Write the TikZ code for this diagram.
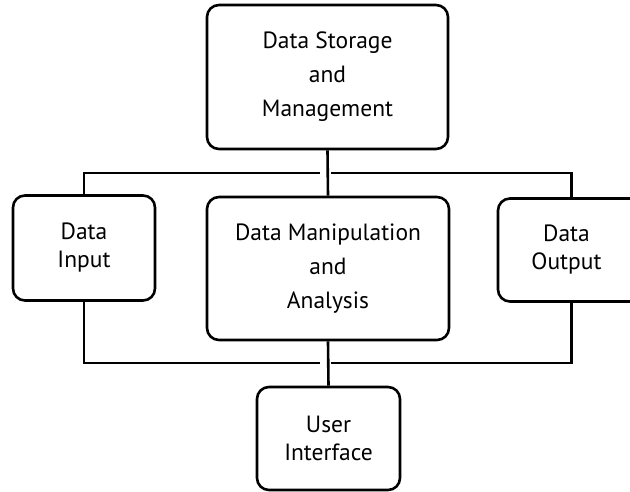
\documentclass[tikz,border=0pt]{standalone}
\usepackage{fontspec}
\setmainfont{PT Sans}
\begin{document}
\begin{tikzpicture}[x=1pt,y=-1pt,
  blk/.style={draw=black,line width=2.6pt,rounded corners=12pt,align=center,
    inner sep=0pt,font=\fontsize{23.5}{28}\selectfont},
  blkthree/.style={blk,font=\fontsize{23.5}{34}\selectfont},
  conn/.style={draw=black,line width=2.6pt}]
\useasboundingbox (0,0) rectangle (630,492);
\clip (0,0) rectangle (630,492);
\fill[white] (0,0) rectangle (630,492);
\node[blkthree,minimum width=241pt,minimum height=144pt] (store) at (327.5,77) {Data Storage\\and\\Management};
\node[blkthree,minimum width=242pt,minimum height=143pt] (manip) at (328,268.5) {Data Manipulation\\and\\Analysis};
\node[blk,minimum width=142pt,minimum height=105pt] (input) at (84,248) {Data\\Input};
\node[blk,minimum width=147pt,minimum height=103pt,text width=130pt] (output) at (571.5,250) {\hspace*{-10pt}Data\\\hspace*{-10pt}Output};
\node[blk,minimum width=143pt,minimum height=103pt] (ui) at (328.5,438.5) {User\\Interface};
\coordinate (tl) at (320,173);
\coordinate (tr) at (331,173);
\coordinate (bl) at (320,363);
\coordinate (br) at (331,363);
\draw[conn] (store.south) -- (manip.north);
\draw[conn] (manip.south) -- (ui.north);
\draw[conn] (input.north) |- (tl);
\draw[conn] (output.north) |- (tr);
\draw[conn] (input.south) |- (bl);
\draw[conn] (output.south) |- (br);
\end{tikzpicture}
\end{document}
